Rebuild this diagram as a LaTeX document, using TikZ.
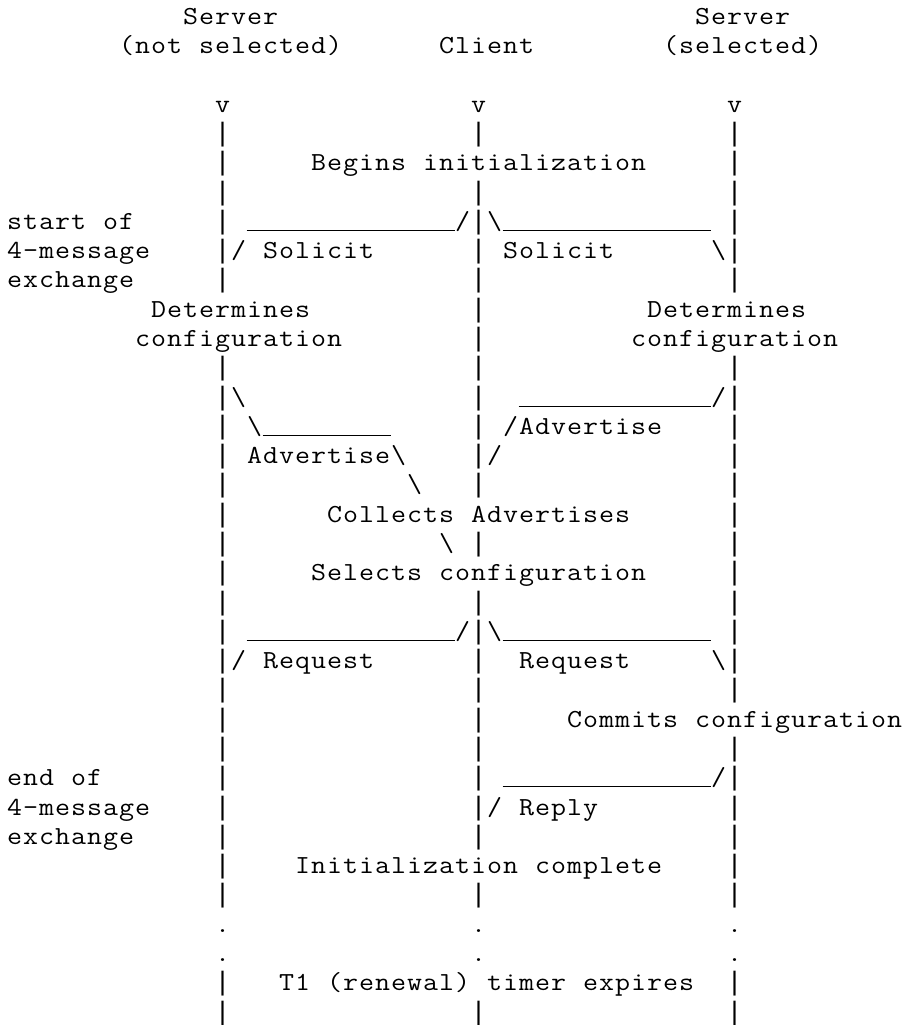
\documentclass[tikz,border=0pt]{standalone}
\usepackage{fontspec}
\usepackage{graphicx}
\newfontfamily\barfont{Liberation Mono}
\newlength\cw
\setlength\cw{16pt}
\newcommand\bs{\textbackslash}
\def\G{G-gap-marker}
\def\U{U-underline-marker}
\def\mend{m-end-marker}
% typeset a row character by character, each in a 16pt cell
\def\mrow#1{\mch#1\mend}
\def\mch#1{%
  \ifx#1\mend\let\mnext\relax
  \else\ifx#1\G\let\mnext\mgap
  \else\ifx#1\U\let\mnext\mus
  \else\ifx#1|\makebox[\cw][c]{\barfont\fontsize{26.667}{29.286}\selectfont|}\let\mnext\mch
  \else\makebox[\cw][c]{\scalebox{1.12}[1]{#1}}\let\mnext\mch
  \fi\fi\fi\fi\mnext}
\def\mgap#1{\hspace*{\dimexpr#1\cw\relax}\mch}
\def\mus#1{\rule[-1.6pt]{\dimexpr#1\cw\relax}{1.1pt}\mch}
\tikzset{
  rowtxt/.style={anchor=base west, inner sep=0pt, outer sep=0pt, text=black,
    font=\ttfamily\fontsize{26}{29.286}\selectfont}
}
\newcommand\rowline[2]{\node[rowtxt] (r#1) at (6.7,{-(24.4+29.286*#1)}) {\mrow{#2}};}
\newcommand\barsrow[1]{\rowline{#1}{\G{13}|\G{15}|\G{15}|}}
\begin{document}
\begin{tikzpicture}[x=1pt,y=1pt]
\fill[white] (0,0) rectangle (904,-1025);
\useasboundingbox (0,0) rectangle (904,-1025);
\rowline{0}{\G{11}Server\G{26}Server}
\rowline{1}{\G{7}(not~selected)\G{6}Client\G{8}(selected)}
\rowline{3}{\G{13}v\G{15}v\G{15}v}
\barsrow{4}
\rowline{5}{\G{13}|\G{5}Begins~initialization\G{5}|}
\barsrow{6}
\rowline{7}{start~of\G{5}|~\U{13}/|\bs\U{13}~|}
\rowline{8}{4-message\G{4}|/~Solicit\G{6}|~Solicit\G{6}\bs|}
\rowline{9}{exchange\G{5}|\G{15}|\G{15}|}
\rowline{10}{\G{9}Determines\G{10}|\G{10}Determines}
\rowline{11}{\G{8}configuration\G{8}|\G{9}configuration}
\barsrow{12}
\rowline{13}{\G{13}|\bs\G{14}|\G{2}\U{12}/|}
\rowline{14}{\G{13}|~\bs\U{8}\G{5}|~/Advertise\G{4}|}
\rowline{15}{\G{13}|~Advertise\bs\G{4}|/\G{14}|}
\rowline{16}{\G{13}|\G{11}\bs\G{3}|\G{15}|}
\rowline{17}{\G{13}|\G{6}Collects~Advertises\G{6}|}
\rowline{18}{\G{13}|\G{13}\bs~|\G{15}|}
\rowline{19}{\G{13}|\G{5}Selects~configuration\G{5}|}
\barsrow{20}
\rowline{21}{\G{13}|~\U{13}/|\bs\U{13}~|}
\rowline{22}{\G{13}|/~Request\G{6}|\G{2}Request\G{5}\bs|}
\barsrow{23}
\rowline{24}{\G{13}|\G{15}|\G{5}Commits~configuration}
\barsrow{25}
\rowline{26}{end~of\G{7}|\G{15}|~\U{13}/|}
\rowline{27}{4-message\G{4}|\G{15}|/~Reply\G{8}|}
\rowline{28}{exchange\G{5}|\G{15}|\G{15}|}
\rowline{29}{\G{13}|\G{4}Initialization~complete\G{4}|}
\barsrow{30}
\rowline{31}{\G{13}.\G{15}.\G{15}.}
\rowline{32}{\G{13}.\G{15}.\G{15}.}
\rowline{33}{\G{13}|\G{3}T1~(renewal)~timer~expires\G{2}|}
\barsrow{34}
\end{tikzpicture}
\end{document}
